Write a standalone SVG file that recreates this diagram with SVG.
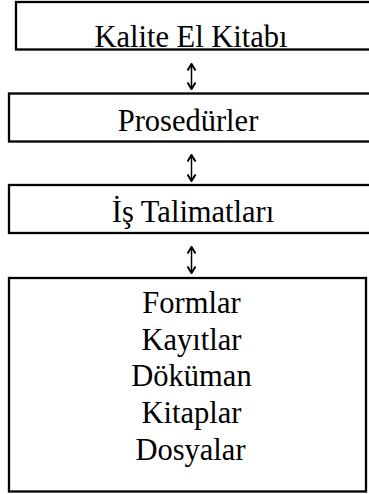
<svg xmlns="http://www.w3.org/2000/svg" width="369" height="494" viewBox="0 0 369 494">
<style>
.box{fill:#fff;stroke:#000;stroke-width:2.3}
.t{font-family:"Liberation Serif","Times New Roman",serif;font-size:30.5px;fill:#000;text-anchor:middle}
.c{fill:none;stroke:#000;stroke-width:1.5}
</style>
<defs>
<marker id="h" viewBox="0 0 10 10" refX="9" refY="5" markerWidth="10" markerHeight="10" markerUnits="userSpaceOnUse" orient="auto-start-reverse">
<path d="M2.5,1 L9,5 L2.5,9" fill="none" stroke="#000" stroke-width="2" stroke-linejoin="miter"/>
</marker>
</defs>
<rect width="369" height="494" fill="#fff"/>
<g id="connectors">
<path class="c" d="M191.5,64 V89" marker-start="url(#h)" marker-end="url(#h)"/>
<path class="c" d="M191.5,155 V181" marker-start="url(#h)" marker-end="url(#h)"/>
<path class="c" d="M191.5,247 V273" marker-start="url(#h)" marker-end="url(#h)"/>
</g>
<g id="kalite">
<rect class="box" x="16" y="2" width="360" height="47.5"/>
<text class="t" x="191" y="46.5">Kalite El Kitabı</text>
</g>
<g id="prosedurler">
<rect class="box" x="9" y="93.5" width="367" height="48"/>
<text class="t" x="188" y="130.5">Prosedürler</text>
</g>
<g id="talimatlar">
<rect class="box" x="9" y="185" width="367" height="48"/>
<text class="t" x="193" y="221.5">İş Talimatları</text>
</g>
<g id="kayitlar">
<rect class="box" x="9" y="278" width="357" height="213.5"/>
<text class="t" x="191.5" y="313">Formlar</text>
<text class="t" x="191.5" y="349.5">Kayıtlar</text>
<text class="t" x="191.5" y="386.3">Döküman</text>
<text class="t" x="191.5" y="423">Kitaplar</text>
<text class="t" x="190.5" y="459.7">Dosyalar</text>
</g>
</svg>
